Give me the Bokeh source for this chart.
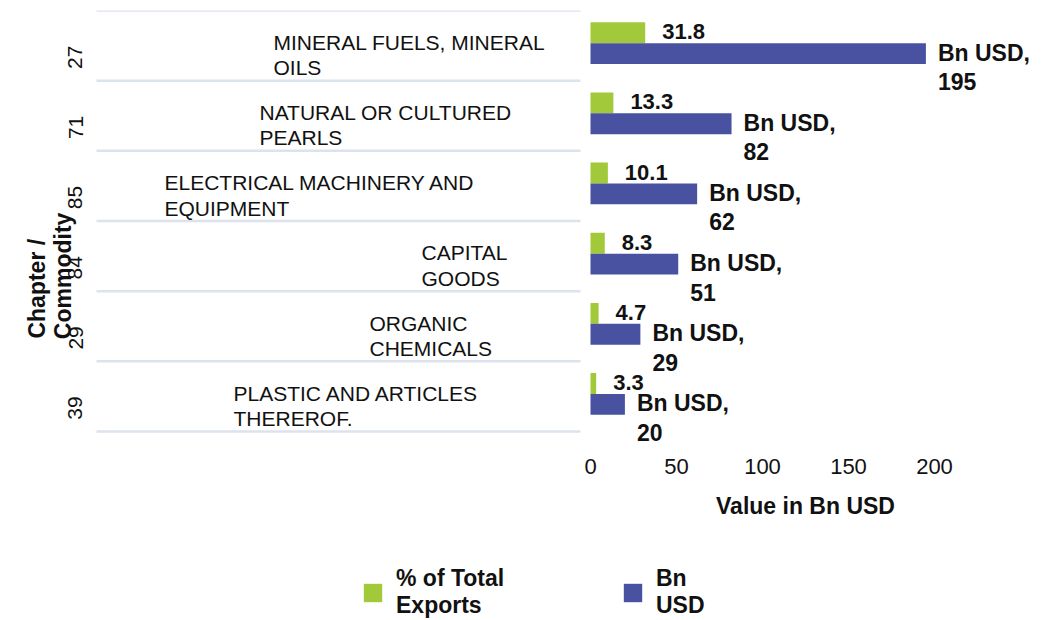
import math
from bokeh.plotting import figure
from bokeh.layouts import column
from bokeh.models import (ColumnDataSource, Range1d, FixedTicker,
                          LinearAxis, Legend, LegendItem)
from bokeh.core.properties import value
from bokeh.embed import file_html
from bokeh.resources import INLINE

# ---------------- data ----------------
chapters = ["27", "71", "85", "84", "29", "39"]
commodities = [
    "MINERAL FUELS, MINERAL\nOILS",
    "NATURAL OR CULTURED\nPEARLS",
    "ELECTRICAL MACHINERY AND\nEQUIPMENT",
    "CAPITAL\nGOODS",
    "ORGANIC\nCHEMICALS",
    "PLASTIC AND ARTICLES\nTHEREROF.",
]
pct_total = [31.8, 13.3, 10.1, 8.3, 4.7, 3.3]
bn_usd = [195, 82, 62, 51, 29, 20]
x_ticks = [0, 50, 100, 150, 200]
x_axis_extent = (0, 250)
series_names = ["% of Total\nExports", "Bn\nUSD"]
x_title = "Value in Bn USD"
y_title_lines = ["Chapter /", "Commodity"]

# ---------------- layout / style ----------------
FONT = "Liberation Sans"
GREEN = "#A2C93A"
BLUE = "#4852A0"
LINE = "#DCE2EE"
TXT = "#111111"
NBSP = "\u00a0"

W, H_MAIN, H_LEG = 1050, 480, 140
FRAME_L, FRAME_R, FRAME_T, FRAME_B = 85, 1040, 10, 445   # figure pixels
TABLE_B = 431                                           # pixel of y = 0
X0_PX = 590.0                                           # pixel of x = 0
PX_PER_X = 1.72
X_START = -(X0_PX - FRAME_L) / PX_PER_X
X_END = (FRAME_R - X0_PX) / PX_PER_X
N = len(chapters)
PX_PER_Y = (TABLE_B - FRAME_T) / N
Y_START = -(FRAME_B - TABLE_B) / PX_PER_Y

def px_to_x(px):
    return (px - X0_PX) / PX_PER_X

# category centres: first chapter on top
row_y = [N - i - 0.5 for i in range(N)]

# left edge of each commodity name (pixels) and table line extent
name_left_px = [273, 259, 164, 421, 369, 233]
table_left_px, table_right_px = 96, 580

G_OFF, B_OFF, BAR_H = 0.1835, -0.1135, 0.297

source = ColumnDataSource(dict(
    y=row_y,
    yg=[v + G_OFF for v in row_y],
    yb=[v + B_OFF for v in row_y],
    pct=pct_total,
    bn=bn_usd,
    pct_lbl=[f"{v}" for v in pct_total],
    bn_lbl=[f"{v}" for v in bn_usd],
    name=commodities,
    name_x=[px_to_x(v) for v in name_left_px],
))

p = figure(width=W, height=H_MAIN,
           x_range=Range1d(X_START, X_END),
           y_range=Range1d(Y_START, N),
           y_axis_type=None,
           min_border_left=FRAME_L, min_border_right=W - FRAME_R,
           min_border_top=FRAME_T, min_border_bottom=H_MAIN - FRAME_B,
           toolbar_location=None, output_backend="svg",
           outline_line_color=None, background_fill_color="white",
           border_fill_color="white")

p.xgrid.visible = False

# table lines at category boundaries
bounds = list(range(N + 1))
p.segment(x0=[px_to_x(table_left_px)] * len(bounds),
          x1=[px_to_x(table_right_px)] * len(bounds),
          y0=bounds, y1=bounds, line_color=LINE, line_width=2.5)

g = p.hbar(y="yg", left=0, right="pct", height=BAR_H,
           fill_color=GREEN, line_color=None, source=source)
b = p.hbar(y="yb", left=0, right="bn", height=BAR_H,
           fill_color=BLUE, line_color=None, source=source)

bold = dict(text_font=value(FONT), text_font_style="bold", text_color=TXT)
p.text(x="pct", y="yg", text="pct_lbl",
       x_offset=17, y_offset=-1, text_baseline="middle", text_align="left",
       text_font_size="22px", source=source, **bold)
p.text(x="bn", y="yb", text=value("Bn USD,"),
       x_offset=12, y_offset=-1, text_baseline="middle", text_align="left",
       text_font_size="23px", source=source, **bold)
p.text(x="bn", y="yb", text="bn_lbl",
       x_offset=12, y_offset=28, text_baseline="middle", text_align="left",
       text_font_size="23px", source=source, **bold)

# commodity names
p.text(x="name_x", y="y", text="name", x_offset=0, y_offset=9.5,
       text_baseline="middle", text_align="left", text_line_height=1.1,
       text_font=value(FONT), text_font_size="21px", text_color=TXT,
       source=source)

# x axis
xa = p.xaxis[0]
xa.ticker = FixedTicker(ticks=x_ticks)
xa.axis_line_color = None
xa.major_tick_line_color = None
xa.minor_tick_line_color = None
xa.major_label_standoff = 7
xa.major_label_text_font = FONT
xa.major_label_text_font_size = "22px"
xa.major_label_text_color = TXT

# y axis (chapter numbers)
ya = LinearAxis(ticker=FixedTicker(ticks=row_y),
                major_label_overrides={y: c for y, c in zip(row_y, chapters)},
                axis_line_color=None, major_tick_line_color=None,
                minor_tick_line_color=None,
                major_label_orientation=math.pi / 2,
                major_label_standoff=4,
                major_label_text_font=FONT, major_label_text_font_size="21px",
                major_label_text_color=TXT)
p.add_layout(ya, "left")

# y title: tick-less axis; non-breaking spaces keep the lines start-aligned
# and lower the block as in the reference
pad = [19, 15]
y_title = "\n".join(t + NBSP * k for t, k in zip(y_title_lines, pad))
ty = LinearAxis(ticker=FixedTicker(ticks=[]), axis_label=y_title,
                axis_label_standoff=-17, axis_line_color=None,
                major_tick_line_color=None, minor_tick_line_color=None,
                axis_label_text_font=FONT, axis_label_text_font_style="bold",
                axis_label_text_font_size="23px", axis_label_text_color=TXT,
                axis_label_text_line_height=1.0)
p.add_layout(ty, "left")

# ---------------- axis title + legend strip ----------------
lf = figure(width=W, height=H_LEG, x_range=Range1d(X_START, X_END),
            y_range=Range1d(0, H_LEG),
            x_axis_type=None, y_axis_type=None,
            min_border_left=0, min_border_right=0, min_border_top=0,
            min_border_bottom=0, toolbar_location=None, output_backend="svg",
            outline_line_color=None, background_fill_color="white",
            border_fill_color="white")
lf.xgrid.visible = False
lf.ygrid.visible = False

lf.text(x=[sum(x_axis_extent) / 2], y=[H_LEG - (505 - H_MAIN)], text=[x_title],
        text_align="center", text_baseline="middle", text_font=value(FONT),
        text_font_style="bold", text_font_size="23px", text_color=TXT)

# legend swatches come from renderers whose single bar lies off-view
lg = lf.hbar(y=[-1000], left=[0], right=[1], height=1, fill_color=GREEN, line_color=None)
lb = lf.hbar(y=[-1000], left=[0], right=[1], height=1, fill_color=BLUE, line_color=None)
LEG_TOP = 567 - H_MAIN
LEG_H = 52
legend = Legend(items=[LegendItem(label=series_names[0], renderers=[lg]),
                       LegendItem(label=series_names[1], renderers=[lb])],
                orientation="horizontal",
                location=(361 - FRAME_L, H_LEG - LEG_TOP - LEG_H),
                glyph_width=23, glyph_height=23, label_standoff=12,
                label_width=215, spacing=10, padding=0, margin=0,
                border_line_color=None, background_fill_alpha=0,
                label_text_font=FONT, label_text_font_style="bold",
                label_text_font_size="23px", label_text_color=TXT)
lf.add_layout(legend, "center")

open("out.html", "w").write(file_html(column(p, lf, spacing=0), INLINE))
